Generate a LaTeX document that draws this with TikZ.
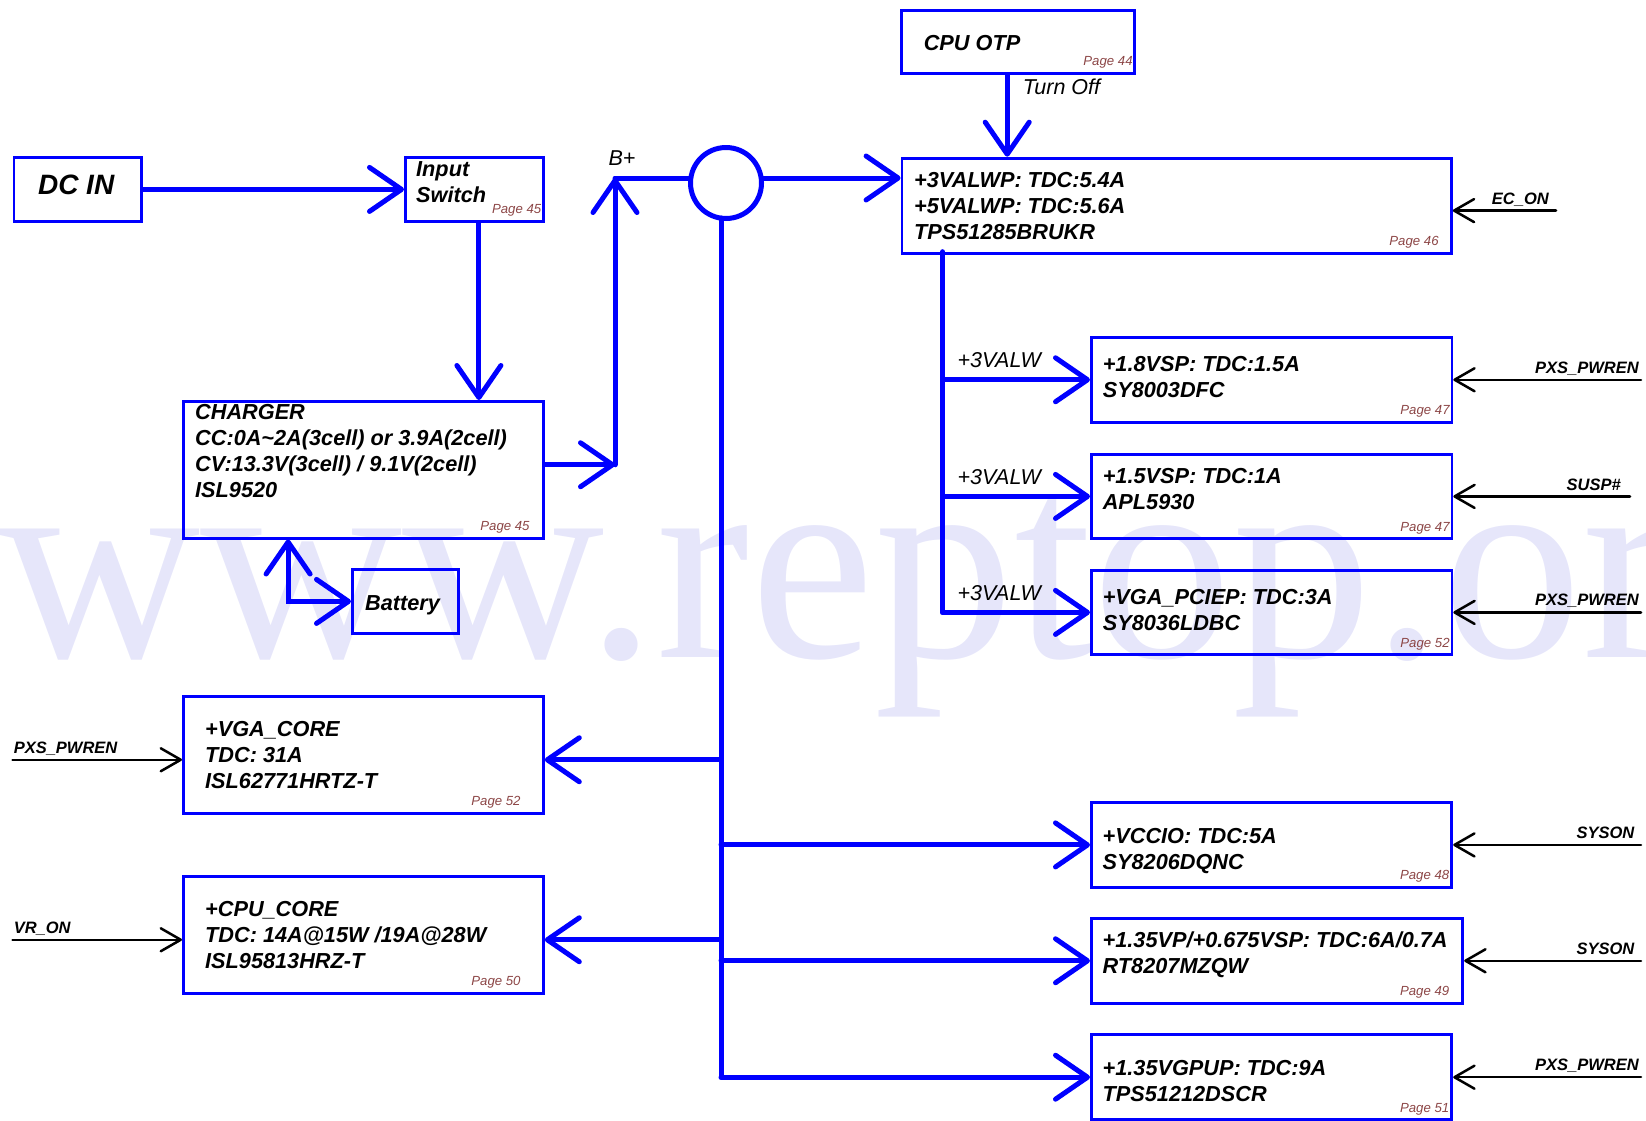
\documentclass[tikz,border=0pt]{standalone}
\usepackage{fontspec}
\setmainfont{Liberation Sans}
\newfontfamily\wmfont{Liberation Serif}
\usepackage{tikz}
\usetikzlibrary{arrows.meta, calc}
\definecolor{pblue}{HTML}{0000FF}
\definecolor{pgred}{HTML}{8C4646}
\definecolor{wmark}{HTML}{E6E6FA}

\tikzset{
  bbarb/.tip={Straight Barb[length=32pt, width=44pt, round]},
  sbarb/.tip={Straight Barb[length=20pt, width=23pt, round]},
  pbox/.style={draw=pblue, line width=2.8pt, anchor=north west, inner sep=0pt},
  btxt/.style={anchor=base west, inner sep=0pt,
               font=\bfseries\itshape\fontsize{21.7}{26}\selectfont},
  pg/.style={anchor=base east, inner sep=0pt, text=pgred,
             font=\itshape\fontsize{13.2}{15}\selectfont},
  lbl/.style={inner sep=0pt, font=\itshape\fontsize{21.5}{26}\selectfont},
  sig/.style={inner sep=0pt, font=\bfseries\itshape\fontsize{16.5}{18}\selectfont},
  bline/.style={draw=pblue, line width=5pt, line cap=round},
  barrow/.style={bline, -bbarb},
  bboth/.style={bline, bbarb-bbarb},
  sarrow/.style={draw=black, line width=2.5pt, line cap=round, -sbarb},
}

% text lines start at the given baseline of the first line
\newcommand{\boxtext}[4]{\node[btxt] (#1-t) at ([xshift=#2pt, yshift=-#3pt]#1.north west)
  {\begin{tabular}[t]{@{}l@{}}#4\end{tabular}};}
\newcommand{\pagetag}[3]{\node[pg] (#1-pg) at ([xshift=-#2pt, yshift=9pt]#1.south east) {Page #3};}

\begin{document}
\begin{tikzpicture}[x=1pt, y=-1pt]
\useasboundingbox (0,0) rectangle (1646,1120);

\begin{scope}
  \clip (0,0) rectangle (1646,1120);
  \node[anchor=base west, inner sep=0pt, text=wmark,
        font=\wmfont\fontsize{280}{280}\selectfont] (wm) at (-2,657) {www.reptop.or};
\end{scope}

% blocks
\node[pbox, minimum width=127.5, minimum height=64] (dcin) at (12.5,156) {};
\node[pbox, minimum width=138, minimum height=64] (insw) at (404,156) {};
\node[pbox, minimum width=360, minimum height=136.7] (chg) at (181.7,400) {};
\node[pbox, minimum width=106.3, minimum height=63.4] (bat) at (351,568.3) {};
\node[pbox, minimum width=233.2, minimum height=62.4] (otp) at (899.8,9.3) {};
\node[pbox, minimum width=549.4, minimum height=95] (vaw) at (900.6,156.7) {};
\node[pbox, minimum width=360.5, minimum height=84.7] (v18) at (1090,336) {};
\node[pbox, minimum width=360.5, minimum height=84.6] (v15) at (1090,452.7) {};
\node[pbox, minimum width=360.5, minimum height=84.6] (pcie) at (1090,568.7) {};
\node[pbox, minimum width=360, minimum height=116.7] (vga) at (182,695) {};
\node[pbox, minimum width=360, minimum height=116.7] (cpu) at (182,875) {};
\node[pbox, minimum width=360.4, minimum height=85] (vccio) at (1090,801) {};
\node[pbox, minimum width=371.4, minimum height=85.3] (v135) at (1090,916.7) {};
\node[pbox, minimum width=360.4, minimum height=85] (gpup) at (1090,1033.3) {};
\node[circle, draw=pblue, line width=5pt, minimum size=71pt, inner sep=0pt] (bplus) at (726,183) {};

% texts
\node[btxt, anchor=base, font=\bfseries\itshape\fontsize{28}{30}\selectfont]
  (dcin-t) at ([xshift=-1.5pt, yshift=-5.3pt]dcin.center) {DC IN};
\node[btxt, anchor=base] (bat-t) at ([xshift=-3pt, yshift=-9pt]bat.center) {Battery};
\boxtext{insw}{12}{20.7}{Input\\Switch}
\boxtext{chg}{13.3}{19.3}{CHARGER\\CC:0A\textasciitilde 2A(3cell) or 3.9A(2cell)\\CV:13.3V(3cell) / 9.1V(2cell)\\ISL9520}
\boxtext{otp}{23.8}{41.4}{CPU OTP}
\boxtext{vaw}{13.4}{30.6}{+3VALWP: TDC:5.4A\\+5VALWP: TDC:5.6A\\TPS51285BRUKR}
\boxtext{v18}{12.6}{35.7}{+1.8VSP: TDC:1.5A\\SY8003DFC}
\boxtext{v15}{12.6}{30.6}{+1.5VSP: TDC:1A\\APL5930}
\boxtext{pcie}{12.6}{35.3}{+VGA\_PCIEP: TDC:3A\\SY8036LDBC}
\boxtext{vga}{23}{41.7}{+VGA\_CORE\\TDC: 31A\\ISL62771HRTZ-T}
\boxtext{cpu}{23}{41.7}{+CPU\_CORE\\TDC: 14A@15W /19A@28W\\ISL95813HRZ-T}
\boxtext{vccio}{12.5}{42.3}{+VCCIO: TDC:5A\\SY8206DQNC}
\boxtext{v135}{12.5}{30.6}{+1.35VP/+0.675VSP: TDC:6A/0.7A\\RT8207MZQW}
\boxtext{gpup}{12.5}{42.4}{+1.35VGPUP: TDC:9A\\TPS51212DSCR}

\pagetag{insw}{3.4}{45}
\pagetag{otp}{3}{44}
\pagetag{vaw}{14}{46}
\pagetag{chg}{14.7}{45}
\pagetag{v18}{3.5}{47}
\pagetag{v15}{3.5}{47}
\pagetag{pcie}{3.5}{52}
\pagetag{vga}{24}{52}
\pagetag{cpu}{24}{50}
\pagetag{vccio}{3.8}{48}
\pagetag{v135}{14.8}{49}
\pagetag{gpup}{3.8}{51}

% power path
\coordinate (bjoin) at (615,178);
\coordinate (bustop) at (721,218);
\coordinate (vtop) at (942.6,251.7);
\coordinate (swout) at ([xshift=4.5pt]insw.south);
\coordinate (otpout) at ([xshift=-10.6pt]otp.south);
\coordinate (chgout) at ([yshift=5pt]chg.east);
\coordinate (vgain) at ([yshift=-5pt]vga.east);
\coordinate (cpuin) at ([yshift=-5pt]cpu.east);
\coordinate (vgaen) at ([yshift=-5pt]vga.west);
\coordinate (cpuen) at ([yshift=-5pt]cpu.west);
\coordinate (ecin) at ([yshift=-5pt]vaw.east);
\coordinate (lfree) at (12.5,0);
\coordinate (rfree) at (1641,0);
\coordinate (ecfree) at (1556,0);
\coordinate (susfree) at (1630,0);

\draw[barrow] (dcin.east) -- (insw.west);
\draw[barrow] (swout) -- (swout |- chg.north);
\draw[barrow] (chgout) -- (chgout -| bjoin);
\draw[barrow] (chgout -| bjoin) -- (bjoin);
\draw[bboth] ([xshift=-75pt]chg.south) |- (bat.west);
\draw[bline] (bjoin) node[lbl, anchor=base west, xshift=-9pt, yshift=12.3pt] (bp-lbl) {B+}
  -- (bjoin -| bplus.west);
\draw[barrow] (bjoin -| bplus.east) -- (bjoin -| vaw.west);
\draw[barrow] (otpout) node[lbl, anchor=base west, xshift=13.2pt, yshift=-20pt] (toff) {Turn Off}
  -- (otpout |- vaw.north);

\draw[bline] (vtop) -- (vtop |- pcie.west);
\foreach \b in {v18,v15,pcie}
  \draw[barrow] (vtop |- \b.west) node[lbl, anchor=base west, xshift=12.4pt, yshift=12pt] (\b-lbl) {+3VALW}
    -- (\b.west);

\draw[bline] (bustop) -- (bustop |- gpup.west);
\foreach \b in {vccio,v135,gpup}
  \draw[barrow] (bustop |- \b.west) -- (\b.west);
\draw[barrow] (bustop |- vgain) -- (vgain);
\draw[barrow] (bustop |- cpuin) -- (cpuin);

% enable signals
\draw[sarrow] (vgaen -| lfree) node[sig, anchor=base west, yshift=6.3pt] (vga-sig) {PXS\_PWREN} -- (vgaen);
\draw[sarrow] (cpuen -| lfree) node[sig, anchor=base west, yshift=6pt] (cpu-sig) {VR\_ON} -- (cpuen);
\draw[sarrow] (ecin -| ecfree) node[sig, anchor=base east, xshift=-6pt, yshift=6pt] (ec-sig) {EC\_ON} -- (ecin);
\draw[sarrow] (v18.east -| rfree) node[sig, anchor=base east, xshift=-1pt, yshift=6.3pt] (v18-sig) {PXS\_PWREN} -- (v18.east);
\draw[sarrow] (v15.east -| susfree) node[sig, anchor=base east, xshift=-8pt, yshift=5.7pt] (v15-sig) {SUSP\#} -- (v15.east);
\draw[sarrow] (pcie.east -| rfree) node[sig, anchor=base east, xshift=-1pt, yshift=6.7pt] (pcie-sig) {PXS\_PWREN} -- (pcie.east);
\draw[sarrow] (vccio.east -| rfree) node[sig, anchor=base east, xshift=-5.4pt, yshift=6.6pt] (vccio-sig) {SYSON} -- (vccio.east);
\draw[sarrow] (v135.east -| rfree) node[sig, anchor=base east, xshift=-5.4pt, yshift=6.7pt] (v135-sig) {SYSON} -- (v135.east);
\draw[sarrow] (gpup.east -| rfree) node[sig, anchor=base east, xshift=-1pt, yshift=6.7pt] (gpup-sig) {PXS\_PWREN} -- (gpup.east);
\end{tikzpicture}
\end{document}
